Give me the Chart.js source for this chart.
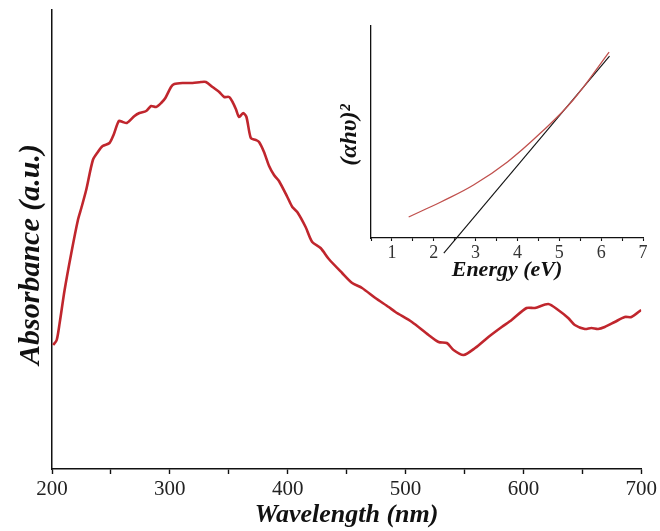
<!DOCTYPE html>
<html>
<head>
<meta charset="utf-8">
<script src="https://cdn.jsdelivr.net/npm/chart.js@4.4.0/dist/chart.umd.min.js"></script>
<style>
  html, body { margin: 0; padding: 0; background: #ffffff; }
  #wrap { position: relative; width: 660px; height: 531px; }
  #main { position: absolute; left: 0; top: 0; }
  #inset { position: absolute; left: 330px; top: 10px; }
</style>
</head>
<body>
<div id="wrap">
  <canvas id="main" width="660" height="531"></canvas>
  <canvas id="inset" width="330" height="290"></canvas>
</div>
<script>
// ---- Main spectrum data ----
const wavelength = [201, 204, 206.5, 210.7, 216.4, 222, 224.9, 229, 234.7, 238.9, 243, 248.8, 252.2, 256.7, 260, 263.4,
  270, 274.2, 279.9, 284.1, 288.3, 292.6, 296.2, 301, 303.8, 310.8, 319.3, 326.4, 330.6, 336.2, 341.9, 346.1,
  350.3, 353.2, 356, 358.8, 362.2, 365, 368.7, 372.9, 375.7, 379.9, 384.2, 388.4, 392.6, 399.7, 403.9, 408.1,
  415.2, 420.8, 427.9, 434.9, 446.2, 454.7, 463.1, 474.4, 485.7, 491.4, 505.4, 519.5, 528, 535, 540.7, 549.2,
  559, 570.3, 581.6, 590, 602.7, 609.8, 621.1, 629.5, 638, 643.6, 652.1, 657.7, 663.4, 669, 677.5, 686, 691.6, 700];
const absorbance = [1.24, 1.29, 1.46, 1.79, 2.16, 2.49, 2.61, 2.79, 3.09, 3.17, 3.23, 3.26, 3.34, 3.48, 3.47, 3.46,
  3.53, 3.56, 3.58, 3.63, 3.62, 3.66, 3.71, 3.82, 3.85, 3.86, 3.86, 3.87, 3.87, 3.82, 3.77, 3.72,
  3.72, 3.67, 3.60, 3.52, 3.56, 3.52, 3.31, 3.29, 3.27, 3.17, 3.03, 2.94, 2.88, 2.72, 2.62, 2.57,
  2.42, 2.27, 2.21, 2.10, 1.96, 1.86, 1.81, 1.71, 1.62, 1.57, 1.47, 1.34, 1.27, 1.26, 1.19, 1.14,
  1.21, 1.32, 1.42, 1.49, 1.61, 1.61, 1.65, 1.59, 1.51, 1.44, 1.40, 1.41, 1.40, 1.42, 1.47, 1.52, 1.52, 1.59];
const mainTickValues = [200, 250, 300, 350, 400, 450, 500, 550, 600, 650, 700];
const mainTickLabels = ['200', '', '300', '', '400', '', '500', '', '600', '', '700'];

// ---- Inset (Tauc plot) data ----
const energy = [1.40, 1.76, 2.17, 2.95, 3.76, 4.55, 5.33, 6.19];
const tauc = [9.9, 13.2, 17.0, 25.0, 35.9, 49.5, 65.1, 87.7];
const fitEnergy = [2.24, 6.20];
const fitTauc = [-7.1, 85.8];
const insetTickValues = [0.5, 1, 1.5, 2, 2.5, 3, 3.5, 4, 4.5, 5, 5.5, 6, 6.5, 7];
const insetTickLabels = ['', '1', '', '2', '', '3', '', '4', '', '5', '', '6', '', '7'];

const SERIF = '"Liberation Serif", "Times New Roman", serif';

function setTicks(values) {
  return function (scale) { scale.ticks = values.map(v => ({ value: v })); };
}

new Chart(document.getElementById('main'), {
  type: 'line',
  data: {
    datasets: [{
      data: wavelength.map((w, i) => ({ x: w, y: absorbance[i] })),
      borderColor: '#c0262d',
      borderWidth: 2.6,
      pointRadius: 0,
      tension: 0.25,
      fill: false
    }]
  },
  options: {
    responsive: false,
    animation: false,
    devicePixelRatio: 1,
    layout: { padding: { left: 0, right: 17, top: 10, bottom: 0 } },
    plugins: { legend: { display: false }, tooltip: { enabled: false } },
    scales: {
      x: {
        type: 'linear', min: 200, max: 700,
        afterBuildTicks: setTicks(mainTickValues),
        afterFit: s => { s.height = 62; },
        grid: { drawOnChartArea: false, drawTicks: true, tickLength: 5, tickWidth: 1.4, tickColor: '#111' },
        border: { display: true, color: '#111', width: 1.5 },
        ticks: {
          autoSkip: false, maxRotation: 0, padding: 3,
          color: '#222', font: { family: SERIF, size: 21 },
          callback: (v, i) => mainTickLabels[i]
        },
        title: {
          display: true, text: 'Wavelength (nm)', color: '#111',
          font: { family: SERIF, size: 26, weight: 'bold', style: 'italic' },
          padding: { top: 0, bottom: 0 }
        }
      },
      y: {
        type: 'linear', min: 0, max: 4.59,
        afterFit: s => { s.width = 52; },
        grid: { display: false },
        border: { display: true, color: '#111', width: 1.5 },
        ticks: { display: false },
        title: {
          display: true, text: 'Absorbance (a.u.)\u00a0\u00a0\u00a0\u00a0', color: '#111',
          font: { family: SERIF, size: 30, weight: 'bold', style: 'italic' },
          padding: { top: 13, bottom: 0 }
        }
      }
    }
  }
});

new Chart(document.getElementById('inset'), {
  type: 'line',
  data: {
    datasets: [{
      data: energy.map((e, i) => ({ x: e, y: tauc[i] })),
      borderColor: '#c0504d',
      borderWidth: 1.3,
      pointRadius: 0,
      tension: 0.4,
      fill: false,
      clip: false
    }, {
      data: fitEnergy.map((e, i) => ({ x: e, y: fitTauc[i] })),
      borderColor: '#111',
      borderWidth: 1.1,
      pointRadius: 0,
      tension: 0,
      fill: false,
      clip: false
    }]
  },
  options: {
    responsive: false,
    animation: false,
    devicePixelRatio: 1,
    layout: { padding: { left: 0, right: 17, top: 16, bottom: 0 } },
    plugins: { legend: { display: false }, tooltip: { enabled: false } },
    scales: {
      x: {
        type: 'linear', min: 0.5, max: 7,
        afterBuildTicks: setTicks(insetTickValues),
        afterFit: s => { s.height = 62; },
        grid: { drawOnChartArea: false, drawTicks: true, tickLength: 3, tickWidth: 1.1, tickColor: '#111' },
        border: { display: true, color: '#111', width: 1.3 },
        ticks: {
          autoSkip: false, maxRotation: 0, padding: 1,
          color: '#333', font: { family: SERIF, size: 18 },
          callback: (v, i) => insetTickLabels[i]
        },
        title: {
          display: true, text: 'Energy (eV)', color: '#111',
          font: { family: SERIF, size: 22, weight: 'bold', style: 'italic' },
          padding: { top: 0, bottom: 16 }
        }
      },
      y: {
        type: 'linear', min: 0, max: 100,
        afterFit: s => { s.width = 41; },
        grid: { display: false },
        border: { display: true, color: '#111', width: 1.3 },
        ticks: { display: false },
        title: {
          display: true, text: '(αhυ)²\u00a0', color: '#111',
          font: { family: SERIF, size: 24, weight: 'bold', style: 'italic' },
          padding: { top: 5, bottom: 0 }
        }
      }
    }
  }
});
</script>
</body>
</html>
